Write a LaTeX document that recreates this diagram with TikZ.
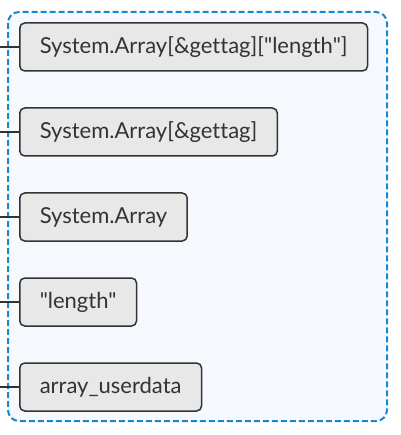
\documentclass[tikz,border=0pt]{standalone}
\usepackage{fontspec}
\newfontfamily\itemfont{Lato}[Ligatures=NoCommon]
\usetikzlibrary{positioning}
\definecolor{grpblue}{HTML}{1787CF}
\definecolor{grpfill}{HTML}{F5F9FD}
\definecolor{boxfill}{HTML}{E8E8E8}
\definecolor{edge}{HTML}{333333}
\tikzset{
  item/.style={draw=edge, line width=1.5pt, fill=boxfill, rounded corners=5pt,
    minimum height=48pt, inner xsep=20pt, anchor=west, font=\itemfont\fontsize{22}{25}\selectfont, text=edge},
  link/.style={draw=edge, line width=1.5pt}
}
\begin{document}
\begin{tikzpicture}[x=1pt, y=-1pt]
\useasboundingbox (0,0) rectangle (400,435);
% group frame
\draw[grpblue, dash pattern=on 6pt off 3pt, line width=2pt, fill=grpfill, rounded corners=11pt] (8,12) rectangle (387,421);
% entries
\node[item] (arrlen) at (19,47) {System.Array[\&gettag]["length"]};
\node[item] (arrtag) at (19,132) {System.Array[\&gettag]};
\node[item] (sysarr) at (19,217) {System.Array};
\node[item] (lenstr) at (19,302) {"length"};
\node[item] (udata) at (19,387) {array\_userdata};
% incoming links
\foreach \n in {arrlen,arrtag,sysarr,lenstr,udata}{
  \coordinate (in-\n) at (0,0 |- \n.west);
  \draw[link] (in-\n) -- (\n.west);
}
\end{tikzpicture}
\end{document}
